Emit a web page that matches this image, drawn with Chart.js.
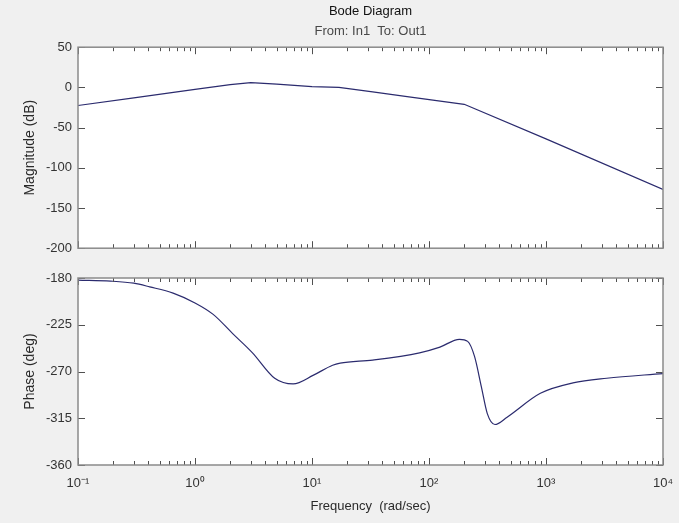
<!DOCTYPE html>
<html>
<head>
<meta charset="utf-8">
<script src="https://cdn.jsdelivr.net/npm/chart.js@4"></script>
<style>
  html, body { margin: 0; padding: 0; background: #f0f0f0; }
  #wrap { position: relative; width: 679px; height: 523px; }
  #mag { position: absolute; left: 0; top: 0; }
  #phase { position: absolute; left: 0; top: 262px; }
</style>
</head>
<body>
<div id="wrap">
  <canvas id="mag" width="679" height="262"></canvas>
  <canvas id="phase" width="679" height="261"></canvas>
</div>
<script>
// magnitude (rad/sec, dB)
const magFreq = [0.1, 0.3, 1, 2, 3, 5, 10, 17, 33, 65, 200, 1000, 10000];
const magDb = [-22.5, -13, -2.5, 3.5, 6, 4, 1, 0, -5.5, -11.5, -21, -64, -127];

// phase (rad/sec, deg)
const phaseFreq = [0.1, 0.19, 0.3, 0.41, 0.65, 1, 1.43, 2.1, 3.1, 4.8, 6.9, 10.3, 15, 17.4, 33, 83, 124, 182, 214, 245, 280, 315, 366, 465, 895, 1700, 3300, 10000];
const phaseDeg = [-182, -183, -185, -188.5, -194.5, -204, -215, -233.5, -252, -276.5, -282, -273.5, -264, -262, -259, -252, -246.5, -239, -241, -255.5, -284.5, -310.5, -321, -314, -291, -281, -276.5, -272];

const decades = [0.1, 1, 10, 100, 1000, 10000];
const decadeLabels = ['10\u207B\u00B9', '10\u2070', '10\u00B9', '10\u00B2', '10\u00B3', '10\u2074'];

const magTicks = [-200, -150, -100, -50, 0, 50];
const phaseTicks = [-360, -315, -270, -225, -180];

const lineColor = '#2b2b6e';
const textColor = '#2a2a2a';
const sans = "'Liberation Sans', Arial, sans-serif";

// 1..9 inside every decade, like matlab minor ticks
const freqMarks = [];
decades.forEach((d, i) => {
  if (i === decades.length - 1) { freqMarks.push(d); return; }
  for (let k = 1; k < 10; k++) freqMarks.push(+(d * k).toPrecision(6));
});

function isDecade(v) {
  return decades.some(d => Math.abs(v - d) / d < 1e-6);
}

// white plot area, inner ticks and box
const frame = {
  id: 'frame',
  beforeDraw(chart) {
    const {ctx, chartArea: a} = chart;
    ctx.save();
    ctx.fillStyle = '#ffffff';
    ctx.fillRect(a.left, a.top, a.width, a.height);
    ctx.restore();
  },
  afterDraw(chart) {
    const {ctx, chartArea: a, scales} = chart;
    const yTicks = chart.options.plugins.frame.yTicks;
    ctx.save();
    ctx.strokeStyle = '#505050';
    ctx.lineWidth = 1;
    ctx.beginPath();
    freqMarks.forEach(v => {
      const px = Math.round(scales.x.getPixelForValue(v)) + 0.5;
      const len = isDecade(v) ? 7 : 4;
      ctx.moveTo(px, a.top); ctx.lineTo(px, a.top + len);
      ctx.moveTo(px, a.bottom); ctx.lineTo(px, a.bottom - len);
    });
    yTicks.forEach(v => {
      const py = Math.round(scales.y.getPixelForValue(v)) + 0.5;
      ctx.moveTo(a.left, py); ctx.lineTo(a.left + 7, py);
      ctx.moveTo(a.right, py); ctx.lineTo(a.right - 7, py);
    });
    ctx.stroke();
    ctx.strokeStyle = '#8a8a8a';
    ctx.lineWidth = 1.5;
    ctx.strokeRect(a.left, a.top, a.width, a.height);
    ctx.restore();
  }
};

function yAxis(min, max, ticks, title) {
  return {
    min: min, max: max,
    afterBuildTicks: s => { s.ticks = ticks.map(v => ({value: v})); },
    afterFit: s => { s.width = 60; },
    grid: {display: false, drawTicks: false},
    border: {display: false},
    ticks: {color: '#333', font: {family: sans, size: 13}, padding: 6},
    title: {display: true, text: title, color: textColor, font: {family: sans, size: 14}, padding: {top: 4, bottom: 0}}
  };
}

new Chart(document.getElementById('mag'), {
  type: 'line',
  data: {
    datasets: [{
      data: magFreq.map((f, i) => ({x: f, y: magDb[i]})),
      borderColor: lineColor,
      borderWidth: 1.2,
      pointRadius: 0,
      tension: 0
    }]
  },
  options: {
    responsive: false,
    animation: false,
    layout: {padding: {left: 18, right: 16, top: 0, bottom: 3}},
    plugins: {
      legend: {display: false},
      tooltip: {enabled: false},
      frame: {yTicks: magTicks},
      title: {
        display: true, text: 'Bode Diagram', fullSize: false, color: '#111',
        font: {family: sans, size: 13, weight: 'normal'}, padding: {top: 4, bottom: 4}
      },
      subtitle: {
        display: true, text: 'From: In1  To: Out1', fullSize: false, color: '#484848',
        font: {family: sans, size: 13}, padding: {top: 0, bottom: 8}
      }
    },
    scales: {
      x: {type: 'logarithmic', min: 0.1, max: 10000, display: false},
      y: yAxis(-200, 50, magTicks, 'Magnitude (dB)')
    }
  },
  plugins: [frame]
});

new Chart(document.getElementById('phase'), {
  type: 'line',
  data: {
    datasets: [{
      data: phaseFreq.map((f, i) => ({x: f, y: phaseDeg[i]})),
      borderColor: lineColor,
      borderWidth: 1.2,
      pointRadius: 0,
      cubicInterpolationMode: 'monotone'
    }]
  },
  options: {
    responsive: false,
    animation: false,
    layout: {padding: {left: 18, right: 16, top: 16, bottom: 0}},
    plugins: {legend: {display: false}, tooltip: {enabled: false}, frame: {yTicks: phaseTicks}},
    scales: {
      x: {
        type: 'logarithmic', min: 0.1, max: 10000,
        afterBuildTicks: s => { s.ticks = decades.map(v => ({value: v})); },
        afterFit: s => { s.height = 58; s.paddingLeft = 0; s.paddingRight = 0; },
        grid: {display: false, drawTicks: false},
        border: {display: false},
        ticks: {
          autoSkip: false, maxRotation: 0, color: '#333',
          font: {family: sans, size: 13}, padding: 11,
          callback: (v, i) => decadeLabels[i]
        },
        title: {display: true, text: 'Frequency  (rad/sec)', color: textColor, font: {family: sans, size: 13}, padding: {top: 0, bottom: 9}}
      },
      y: yAxis(-360, -180, phaseTicks, 'Phase (deg)')
    }
  },
  plugins: [frame]
});
</script>
</body>
</html>
